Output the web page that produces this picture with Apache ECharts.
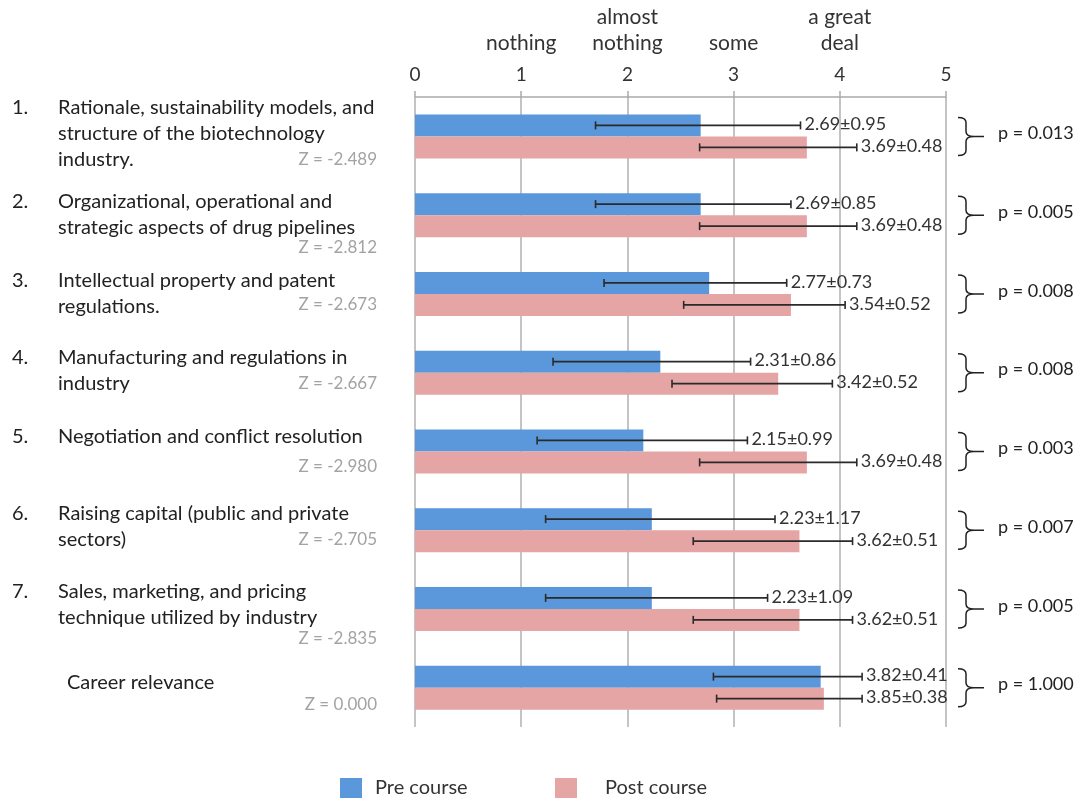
<!DOCTYPE html>
<html>
<head>
<meta charset="utf-8">
<script src="https://cdn.jsdelivr.net/npm/echarts@6/dist/echarts.min.js"></script>
<style>
  html, body { margin: 0; padding: 0; background: #fff; }
  #chart { width: 1084px; height: 801px; }
</style>
</head>
<body>
<div id="chart"></div>
<script>
// item numbers and label lines (left side)
var itemNumbers = ['1.', '2.', '3.', '4.', '5.', '6.', '7.', ''];
var itemLines = [
  ['Rationale, sustainability models, and', 'structure of the biotechnology', 'industry.'],
  ['Organizational, operational and', 'strategic aspects of drug pipelines'],
  ['Intellectual property and patent', 'regulations.'],
  ['Manufacturing and regulations in', 'industry'],
  ['Negotiation and conflict resolution'],
  ['Raising capital (public and private', 'sectors)'],
  ['Sales, marketing, and pricing', 'technique utilized by industry'],
  ['Career relevance']
];
var zValues = ['-2.489', '-2.812', '-2.673', '-2.667', '-2.980', '-2.705', '-2.835', '0.000'];
var pValues = ['0.013', '0.005', '0.008', '0.008', '0.003', '0.007', '0.005', '1.000'];

// means and sd
var preMean = [2.69, 2.69, 2.77, 2.31, 2.15, 2.23, 2.23, 3.82];
var preSd = [0.95, 0.85, 0.73, 0.86, 0.99, 1.17, 1.09, 0.41];
var postMean = [3.69, 3.69, 3.54, 3.42, 3.69, 3.62, 3.62, 3.85];
var postSd = [0.48, 0.48, 0.52, 0.52, 0.48, 0.51, 0.51, 0.38];

// error bar ends as drawn in the figure
var preErrLow = [1.70, 1.70, 1.78, 1.30, 1.15, 1.23, 1.23, 2.81];
var preErrHigh = [3.63, 3.54, 3.50, 3.16, 3.13, 3.39, 3.32, 4.21];
var postErrLow = [2.68, 2.68, 2.53, 2.42, 2.68, 2.62, 2.62, 2.84];
var postErrHigh = [4.16, 4.16, 4.05, 3.93, 4.16, 4.12, 4.12, 4.21];

// scale words above the axis
var scaleWords = { 1: 'nothing', 2: 'almost\nnothing', 3: 'some', 4: 'a great\ndeal' };

var FONT = 'Lato, "Open Sans", sans-serif';
var BLUE = '#5b97db';
var PINK = '#e5a5a5';

// label placement relative to each group's centre (px)
var firstLineOffset = [-29, -14, -13, -15, -15, -17, -17, -5];
var zOffset = [23, 32, 11, 11, 15, 9, 30, 17];
var LINE_H = 26;

var categories = itemNumbers.map(function (n, i) { return 'item' + i; });

var chart = echarts.init(document.getElementById('chart'));

function txt(text, x, y, size, color, align) {
  return {
    type: 'text',
    style: {
      text: text, x: x, y: y,
      font: size + 'px ' + FONT, fill: color,
      textAlign: align, textVerticalAlign: 'middle',
      align: align, verticalAlign: 'middle'
    }
  };
}

function errorRender(lows, highs, means, sds, shift) {
  return function (params, api) {
    var i = params.dataIndex;
    var lo = api.coord([lows[i], i]);
    var hi = api.coord([highs[i], i]);
    var y = lo[1] + shift;
    var stroke = { stroke: '#2a2a2a', lineWidth: 1.6 };
    return {
      type: 'group',
      children: [
        { type: 'line', shape: { x1: lo[0], y1: y, x2: hi[0], y2: y }, style: stroke },
        { type: 'line', shape: { x1: lo[0], y1: y - 4, x2: lo[0], y2: y + 4 }, style: stroke },
        { type: 'line', shape: { x1: hi[0], y1: y - 4, x2: hi[0], y2: y + 4 }, style: stroke },
        txt(means[i].toFixed(2) + '\u00b1' + sds[i].toFixed(2), hi[0] + 4, y - 1, 18, '#333', 'left')
      ]
    };
  };
}

function sideRender(params, api) {
  var i = params.dataIndex;
  var c = api.coord([5, i]);
  var cy = c[1];
  var children = [];
  // left labels
  var textX = itemNumbers[i] ? 58 : 67;
  if (itemNumbers[i]) {
    children.push(txt(itemNumbers[i], 12, cy + firstLineOffset[i], 20, '#222', 'left'));
  }
  itemLines[i].forEach(function (line, k) {
    children.push(txt(line, textX, cy + firstLineOffset[i] + k * LINE_H, 20, '#222', 'left'));
  });
  children.push(txt('Z = ' + zValues[i], 377, cy + zOffset[i], 17, '#a3a3a3', 'right'));
  // brace
  var x0 = c[0] + 12, x1 = c[0] + 20, x2 = c[0] + 28;
  var top = cy - 19, bot = cy + 19, r = 5;
  children.push({
    type: 'path',
    shape: {
      pathData: 'M' + x0 + ' ' + top + ' Q' + x1 + ' ' + top + ' ' + x1 + ' ' + (top + r) +
        ' L' + x1 + ' ' + (cy - r) + ' Q' + x1 + ' ' + cy + ' ' + x2 + ' ' + cy +
        ' Q' + x1 + ' ' + cy + ' ' + x1 + ' ' + (cy + r) +
        ' L' + x1 + ' ' + (bot - r) + ' Q' + x1 + ' ' + bot + ' ' + x0 + ' ' + bot +
        ' M' + x2 + ' ' + cy + ' L' + (x2 + 10) + ' ' + cy
    },
    style: { stroke: '#222', lineWidth: 1.5, fill: null }
  });
  children.push(txt('p = ' + pValues[i], c[0] + 52, cy - 3, 18, '#222', 'left'));
  return { type: 'group', children: children };
}

chart.setOption({
  animation: false,
  textStyle: { fontFamily: FONT },
  grid: { left: 415, right: 138, top: 97, height: 630 },
  legend: [
    {
      data: ['Pre course'], left: 340, top: 778, padding: 0,
      itemWidth: 22, itemHeight: 20, icon: 'rect',
      textStyle: { fontSize: 20, color: '#333', padding: [0, 0, 0, 8] }
    },
    {
      data: ['Post course'], left: 555, top: 778, padding: 0,
      itemWidth: 22, itemHeight: 20, icon: 'rect',
      textStyle: { fontSize: 20, color: '#333', padding: [0, 0, 0, 23] }
    }
  ],
  xAxis: [
    {
      type: 'value', position: 'top', min: 0, max: 5, interval: 1,
      axisLine: { show: true, lineStyle: { color: '#aaa', width: 1.5 } },
      axisTick: { show: true, length: 6, lineStyle: { color: '#aaa', width: 1.5 } },
      axisLabel: { fontSize: 19, color: '#333', margin: 13 },
      splitLine: { show: true, lineStyle: { color: '#b0b0b0', width: 1.5 } }
    },
    {
      type: 'value', position: 'top', min: 0, max: 5, interval: 1, offset: 41,
      axisLine: { show: false }, axisTick: { show: false }, splitLine: { show: false },
      axisLabel: {
        fontSize: 21, color: '#333', lineHeight: 26, margin: 0,
        formatter: function (v) { return scaleWords[v] || ''; }
      }
    }
  ],
  yAxis: {
    type: 'category', inverse: true, data: categories,
    axisLine: { show: false }, axisTick: { show: false }, axisLabel: { show: false }
  },
  series: [
    {
      name: 'Pre course', type: 'bar', data: preMean,
      barWidth: 22, barGap: '0%', itemStyle: { color: BLUE }
    },
    {
      name: 'Post course', type: 'bar', data: postMean,
      barWidth: 22, barGap: '0%', itemStyle: { color: PINK }
    },
    {
      type: 'custom', renderItem: errorRender(preErrLow, preErrHigh, preMean, preSd, -11),
      data: preMean.map(function (v, i) { return [preErrLow[i], preErrHigh[i], i]; }),
      encode: { x: [0, 1], y: 2 }, clip: false, z: 5, silent: true
    },
    {
      type: 'custom', renderItem: errorRender(postErrLow, postErrHigh, postMean, postSd, 11),
      data: postMean.map(function (v, i) { return [postErrLow[i], postErrHigh[i], i]; }),
      encode: { x: [0, 1], y: 2 }, clip: false, z: 5, silent: true
    },
    {
      type: 'custom', renderItem: sideRender,
      data: categories.map(function (c, i) { return [5, i]; }),
      encode: { x: 0, y: 1 }, clip: false, silent: true
    }
  ]
});
</script>
</body>
</html>
